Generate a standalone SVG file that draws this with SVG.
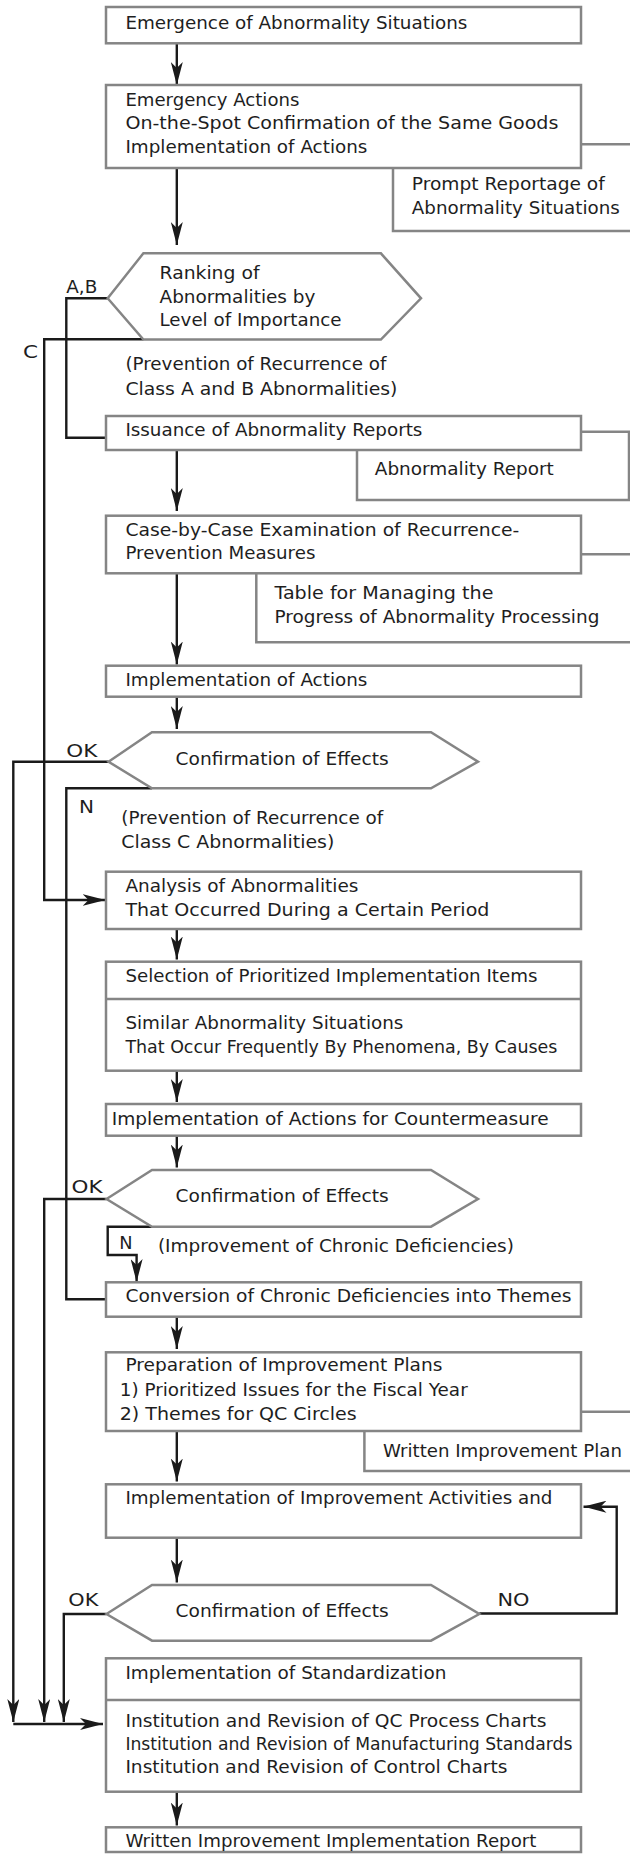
<svg xmlns="http://www.w3.org/2000/svg" width="630" height="1855" viewBox="0 0 630 1855">
<defs>
<style>
.box{fill:#fff;stroke:#858585;stroke-width:2.5}
.doc{fill:none;stroke:#858585;stroke-width:2.5}
.t{font-family:"DejaVu Sans","Liberation Sans",sans-serif;font-size:18px;fill:#1e1e1e}
.c{fill:none;stroke:#1a1a1a;stroke-width:2.4}
.a{marker-end:url(#arr)}
</style>
<marker id="arr" markerUnits="userSpaceOnUse" markerWidth="23" markerHeight="12" viewBox="0 0 23 12" refX="23" refY="6" orient="auto"><path d="M23,6 L0,0 L6,6 L0,12 Z" fill="#1a1a1a"/></marker>
</defs>
<rect width="630" height="1855" fill="#fff"/>

<g id="connectors">
<path class="c a" d="M176.8,43.3 V85"/>
<path class="c a" d="M176.8,168 V245"/>
<path class="c" d="M107.7,298.3 H66.3 V437.7 H106"/>
<path class="c a" d="M143.4,339.3 H44.2 V900 H105.5"/>
<path class="c a" d="M176.8,450 V511"/>
<path class="c a" d="M176.8,573.3 V664.5"/>
<path class="c a" d="M176.8,696.7 V729"/>
<path class="c a" d="M108.5,761.7 H13.3 V1722"/>
<path class="c" d="M151.9,788.3 H66.3 V1299.3 H106"/>
<path class="c a" d="M176.8,929 V959.5"/>
<path class="c a" d="M176.8,1070.7 V1102"/>
<path class="c a" d="M176.8,1135.7 V1167.5"/>
<path class="c a" d="M106.5,1199 H44.2 V1722"/>
<path class="c a" d="M152,1226.7 H107.7 V1255 H136.6 V1282"/>
<path class="c a" d="M176.8,1316.7 V1349"/>
<path class="c a" d="M176.8,1431 V1481.5"/>
<path class="c a" d="M176.8,1537.7 V1582.5"/>
<path class="c a" d="M479.3,1613.5 H616.7 V1506.7 H583.5"/>
<path class="c a" d="M106.5,1614 H63.8 V1722"/>
<path class="c a" d="M13.3,1724 H103"/>
<path class="c a" d="M176.8,1791.7 V1825.5"/>
</g>

<g id="labels">
<text class="t" x="66.3" y="293.3" textLength="31" lengthAdjust="spacingAndGlyphs">A,B</text>
<text class="t" x="22.9" y="358.3" textLength="15" lengthAdjust="spacingAndGlyphs">C</text>
<text class="t" x="66.3" y="756.7" textLength="31" lengthAdjust="spacingAndGlyphs">OK</text>
<text class="t" x="79.1" y="813" textLength="15" lengthAdjust="spacingAndGlyphs">N</text>
<text class="t" x="71.5" y="1192.7" textLength="31" lengthAdjust="spacingAndGlyphs">OK</text>
<text class="t" x="119.3" y="1248.5" textLength="13.3" lengthAdjust="spacingAndGlyphs">N</text>
<text class="t" x="68.3" y="1606" textLength="30" lengthAdjust="spacingAndGlyphs">OK</text>
<text class="t" x="497.4" y="1606" textLength="32" lengthAdjust="spacingAndGlyphs">NO</text>
<text class="t" x="125.4" y="370" textLength="261" lengthAdjust="spacingAndGlyphs">(Prevention of Recurrence of</text>
<text class="t" x="125.4" y="395" textLength="272" lengthAdjust="spacingAndGlyphs">Class A and B Abnormalities)</text>
<text class="t" x="121.3" y="824.3" textLength="262" lengthAdjust="spacingAndGlyphs">(Prevention of Recurrence of</text>
<text class="t" x="121.3" y="847.7" textLength="213" lengthAdjust="spacingAndGlyphs">Class C Abnormalities)</text>
<text class="t" x="157.9" y="1252" textLength="356" lengthAdjust="spacingAndGlyphs">(Improvement of Chronic Deficiencies)</text>
</g>

<g id="n1">
<rect class="box" x="106" y="7" width="475" height="36.3"/>
<text class="t" x="125.4" y="28.5" textLength="342" lengthAdjust="spacingAndGlyphs">Emergence of Abnormality Situations</text>
</g>

<g id="n2">
<rect class="box" x="106" y="85" width="475" height="83"/>
<text class="t" x="125.4" y="106" textLength="174" lengthAdjust="spacingAndGlyphs">Emergency Actions</text>
<text class="t" x="125.4" y="129.3" textLength="433" lengthAdjust="spacingAndGlyphs">On-the-Spot Confirmation of the Same Goods</text>
<text class="t" x="125.4" y="152.7" textLength="242" lengthAdjust="spacingAndGlyphs">Implementation of Actions</text>
</g>

<g id="doc1">
<path class="doc" d="M581,144.3 H630 M393,168 V231 H630"/>
<text class="t" x="411.8" y="190" textLength="193" lengthAdjust="spacingAndGlyphs">Prompt Reportage of</text>
<text class="t" x="411.8" y="214" textLength="208" lengthAdjust="spacingAndGlyphs">Abnormality Situations</text>
</g>

<g id="n3">
<polygon class="box" points="107.7,298.3 143.4,253.3 380.9,253.3 421,298.3 380.9,339.5 143.4,339.5"/>
<text class="t" x="159.5" y="279" textLength="100" lengthAdjust="spacingAndGlyphs">Ranking of</text>
<text class="t" x="159.5" y="302.5" textLength="156" lengthAdjust="spacingAndGlyphs">Abnormalities by</text>
<text class="t" x="159.5" y="326.3" textLength="182" lengthAdjust="spacingAndGlyphs">Level of Importance</text>
</g>

<g id="n4">
<rect class="box" x="106" y="416" width="475" height="34"/>
<text class="t" x="125.4" y="436" textLength="297" lengthAdjust="spacingAndGlyphs">Issuance of Abnormality Reports</text>
</g>

<g id="doc2">
<path class="doc" d="M581,431.7 H629 V500 H357 V450"/>
<text class="t" x="374.8" y="475" textLength="179" lengthAdjust="spacingAndGlyphs">Abnormality Report</text>
</g>

<g id="n5">
<rect class="box" x="106" y="515.7" width="475" height="57.6"/>
<text class="t" x="125.4" y="535.7" textLength="394" lengthAdjust="spacingAndGlyphs">Case-by-Case Examination of Recurrence-</text>
<text class="t" x="125.4" y="559" textLength="190" lengthAdjust="spacingAndGlyphs">Prevention Measures</text>
</g>

<g id="doc3">
<path class="doc" d="M581,554.3 H630 M256.3,573.3 V642.3 H630"/>
<text class="t" x="274.4" y="599" textLength="219" lengthAdjust="spacingAndGlyphs">Table for Managing the</text>
<text class="t" x="274.4" y="622.5" textLength="325" lengthAdjust="spacingAndGlyphs">Progress of Abnormality Processing</text>
</g>

<g id="n6">
<rect class="box" x="106" y="665.7" width="475" height="31"/>
<text class="t" x="125.4" y="685.7" textLength="242" lengthAdjust="spacingAndGlyphs">Implementation of Actions</text>
</g>

<g id="n7">
<polygon class="box" points="108.5,761.7 151.9,732.3 431,732.3 478,761.7 431,788.3 151.9,788.3"/>
<text class="t" x="175.6" y="765" textLength="213" lengthAdjust="spacingAndGlyphs">Confirmation of Effects</text>
</g>

<g id="n8">
<rect class="box" x="106" y="871.7" width="475" height="57.3"/>
<text class="t" x="125.4" y="891.7" textLength="233" lengthAdjust="spacingAndGlyphs">Analysis of Abnormalities</text>
<text class="t" x="125.4" y="915.5" textLength="364" lengthAdjust="spacingAndGlyphs">That Occurred During a Certain Period</text>
</g>

<g id="n9">
<rect class="box" x="106" y="961.7" width="475" height="109"/>
<path class="doc" d="M106,999 H581"/>
<text class="t" x="125.4" y="981.7" textLength="412" lengthAdjust="spacingAndGlyphs">Selection of Prioritized Implementation Items</text>
<text class="t" x="125.4" y="1029.3" textLength="278" lengthAdjust="spacingAndGlyphs">Similar Abnormality Situations</text>
<text class="t" x="125.4" y="1053" textLength="432" lengthAdjust="spacingAndGlyphs">That Occur Frequently By Phenomena, By Causes</text>
</g>

<g id="n10">
<rect class="box" x="106" y="1104" width="475" height="31.7"/>
<text class="t" x="111.7" y="1125" textLength="437" lengthAdjust="spacingAndGlyphs">Implementation of Actions for Countermeasure</text>
</g>

<g id="n11">
<polygon class="box" points="106.5,1199 152,1170 431,1170 478,1199 431,1226.7 152,1226.7"/>
<text class="t" x="175.6" y="1202.3" textLength="213" lengthAdjust="spacingAndGlyphs">Confirmation of Effects</text>
</g>

<g id="n12">
<rect class="box" x="106" y="1282.3" width="475" height="34.4"/>
<text class="t" x="125.4" y="1302.3" textLength="446" lengthAdjust="spacingAndGlyphs">Conversion of Chronic Deficiencies into Themes</text>
</g>

<g id="n13">
<rect class="box" x="106" y="1352.3" width="475" height="78.7"/>
<text class="t" x="125.4" y="1371" textLength="317" lengthAdjust="spacingAndGlyphs">Preparation of Improvement Plans</text>
<text class="t" x="119.7" y="1395.5" textLength="348" lengthAdjust="spacingAndGlyphs">1) Prioritized Issues for the Fiscal Year</text>
<text class="t" x="119.7" y="1419.5" textLength="237" lengthAdjust="spacingAndGlyphs">2) Themes for QC Circles</text>
</g>

<g id="doc4">
<path class="doc" d="M581,1411.7 H630 M364.4,1431 V1471 H630"/>
<text class="t" x="382.9" y="1456.7" textLength="239" lengthAdjust="spacingAndGlyphs">Written Improvement Plan</text>
</g>

<g id="n14">
<rect class="box" x="106" y="1484.3" width="475" height="53.4"/>
<text class="t" x="125.4" y="1504.3" textLength="427" lengthAdjust="spacingAndGlyphs">Implementation of Improvement Activities and</text>
</g>

<g id="n15">
<polygon class="box" points="106.5,1614 152,1585 431,1585 479.3,1614 431,1640.7 152,1640.7"/>
<text class="t" x="175.6" y="1617.3" textLength="213" lengthAdjust="spacingAndGlyphs">Confirmation of Effects</text>
</g>

<g id="n16">
<rect class="box" x="106" y="1658.3" width="475" height="133.4"/>
<path class="doc" d="M106,1700 H581"/>
<text class="t" x="125.4" y="1679" textLength="321" lengthAdjust="spacingAndGlyphs">Implementation of Standardization</text>
<text class="t" x="125.4" y="1726.7" textLength="421" lengthAdjust="spacingAndGlyphs">Institution and Revision of QC Process Charts</text>
<text class="t" x="125.4" y="1750" textLength="447" lengthAdjust="spacingAndGlyphs">Institution and Revision of Manufacturing Standards</text>
<text class="t" x="125.4" y="1773.3" textLength="382" lengthAdjust="spacingAndGlyphs">Institution and Revision of Control Charts</text>
</g>

<g id="n17">
<rect class="box" x="106" y="1827.3" width="475" height="24.7"/>
<text class="t" x="125.4" y="1847.3" textLength="411" lengthAdjust="spacingAndGlyphs">Written Improvement Implementation Report</text>
</g>
</svg>
